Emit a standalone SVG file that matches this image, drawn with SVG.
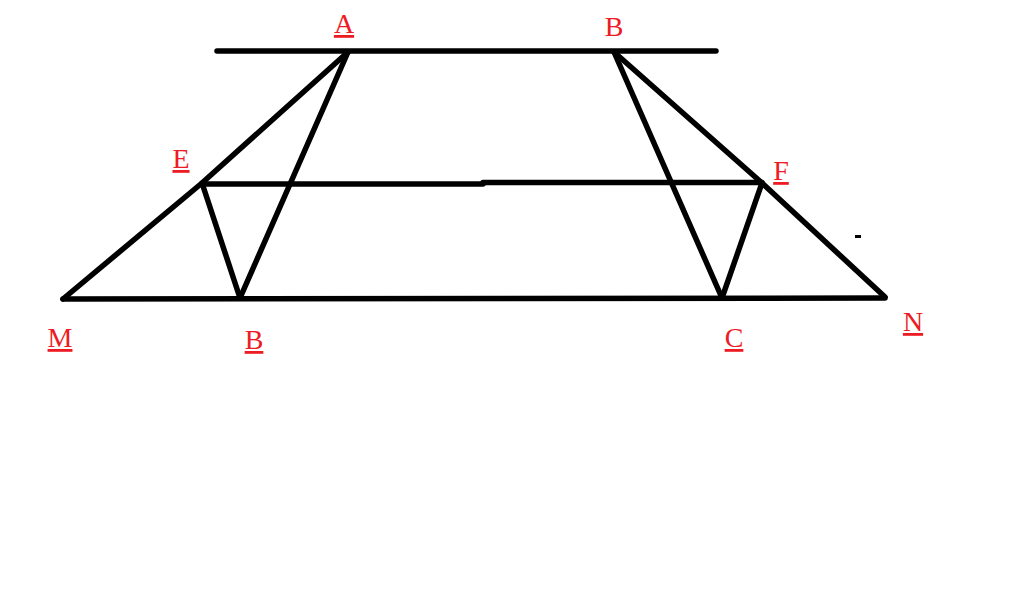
<svg xmlns="http://www.w3.org/2000/svg" width="1024" height="597" viewBox="0 0 1024 597">
<style>
.l{stroke:#000;stroke-width:5.5;stroke-linecap:round;stroke-linejoin:round;fill:none}
.t{font-family:"Liberation Serif","Times New Roman",serif;font-size:28px;fill:#ed1c24;text-anchor:middle}
.u{text-decoration:underline}
</style>
<rect width="1024" height="597" fill="#fff"/>
<g id="connectors">
<line class="l" x1="217" y1="51" x2="716" y2="51"/>
<polyline class="l" points="348,52 202,183 63,299"/>
<line class="l" x1="348" y1="52" x2="240" y2="298"/>
<line class="l" x1="202" y1="183" x2="240" y2="298"/>
<polyline class="l" points="614,52 762,183 885,297"/>
<line class="l" x1="614" y1="52" x2="722" y2="298"/>
<line class="l" x1="762" y1="183" x2="722" y2="298"/>
<line class="l" x1="202" y1="184" x2="483" y2="184"/>
<line class="l" x1="483" y1="182.5" x2="762" y2="182.5"/>
<line class="l" x1="63" y1="299" x2="885" y2="298"/>
<line x1="855" y1="236.5" x2="861" y2="236.5" stroke="#000" stroke-width="3"/>
</g>
<g id="A"><text class="t u" x="344" y="33">A</text></g>
<g id="B-top"><text class="t" x="614" y="36">B</text></g>
<g id="E"><text class="t u" x="181" y="168">E</text></g>
<g id="F"><text class="t u" x="781" y="180">F</text></g>
<g id="M"><text class="t u" x="60" y="347">M</text></g>
<g id="B-bottom"><text class="t u" x="254" y="349">B</text></g>
<g id="C"><text class="t u" x="734" y="347">C</text></g>
<g id="N"><text class="t u" x="913" y="331">N</text></g>
</svg>
